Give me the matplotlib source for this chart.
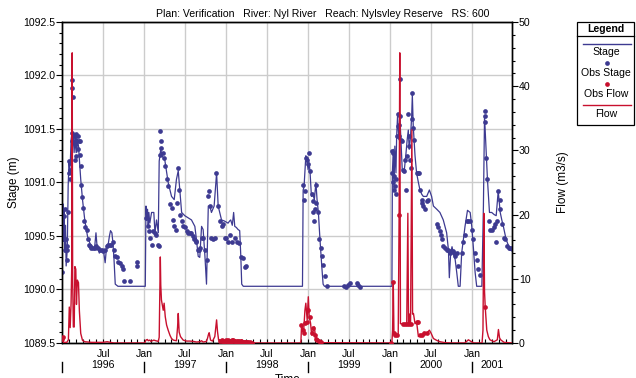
import numpy as np
import pandas as pd
import matplotlib
matplotlib.use("Agg")
import matplotlib.pyplot as plt
import matplotlib.dates as mdates
from matplotlib.patches import Rectangle
from matplotlib.lines import Line2D
from matplotlib.ticker import MultipleLocator, FixedLocator

plt.rcParams['font.family'] = ['Liberation Sans', 'DejaVu Sans']

# days counted from 1 Jan 1996
t0 = pd.Timestamp('1996-01-01')

# computed stage (m)
stage_day = [-1, 1, 3, 5, 8, 11, 14, 17, 22, 26, 30, 33, 36, 39, 43, 47, 51, 56, 60, 64,
             68, 72, 76, 82, 90, 100, 112, 125, 135, 143, 150, 155, 165, 175, 185, 191, 196, 203, 210, 215,
             221, 225, 230, 236, 248, 370, 373, 376, 380, 383, 386, 390, 398, 408, 413, 420, 428, 432, 439, 445,
             457, 472, 487, 499, 509, 517, 524, 532, 546, 561, 576, 591, 598, 606, 613, 621, 628, 636, 643, 651,
             658, 665, 677, 688, 695, 710, 723, 739, 746, 751, 758, 764, 769, 776, 784, 791, 796, 800, 807, 1071,
             1074, 1078, 1086, 1090, 1096, 1101, 1105, 1111, 1116, 1124, 1131, 1136, 1142, 1149, 1157, 1163, 1169, 1470, 1472, 1476,
             1479, 1483, 1488, 1491, 1495, 1501, 1506, 1510, 1516, 1524, 1533, 1538, 1543, 1547, 1553, 1558, 1561, 1565, 1573, 1580,
             1588, 1595, 1603, 1610, 1625, 1637, 1647, 1655, 1670, 1684, 1699, 1714, 1722, 1726, 1732, 1738, 1744, 1752, 1759, 1766,
             1774, 1781, 1796, 1807, 1819, 1826, 1834, 1841, 1848, 1871, 1878, 1883, 1889, 1896, 1905, 1915, 1926, 1935, 1944, 1953,
             1960, 1967, 1979, 1990, 1997, 2005]
stage_m = [1090.20, 1090.65, 1090.80, 1090.45, 1090.75, 1090.35, 1090.60, 1090.22, 1090.37, 1090.97, 1091.20, 1091.12, 1091.21, 1091.40, 1091.46, 1091.28, 1091.46, 1091.28, 1091.43, 1091.28,
           1091.40, 1091.34, 1091.21, 1091.03, 1090.84, 1090.65, 1090.50, 1090.42, 1090.40, 1090.37, 1090.53, 1090.40, 1090.34, 1090.37, 1090.34, 1090.25, 1090.37, 1090.40, 1090.50, 1090.55,
           1090.53, 1090.45, 1090.30, 1090.05, 1090.03, 1090.03, 1090.78, 1090.65, 1090.75, 1090.59, 1090.72, 1090.62, 1090.72, 1090.72, 1090.53, 1090.65, 1090.53, 1091.20, 1091.31, 1091.25,
           1091.21, 1091.00, 1090.87, 1090.84, 1091.03, 1091.11, 1090.93, 1090.72, 1090.69, 1090.67, 1090.65, 1090.59, 1090.47, 1090.31, 1090.30, 1090.59, 1090.56, 1090.31, 1090.05, 1090.78,
           1090.78, 1090.72, 1090.78, 1091.09, 1090.78, 1090.65, 1090.64, 1090.62, 1090.64, 1090.65, 1090.60, 1090.72, 1090.59, 1090.58, 1090.56, 1090.55, 1090.31, 1090.05, 1090.03, 1090.03,
           1090.93, 1090.96, 1091.25, 1091.23, 1091.12, 1091.18, 1091.09, 1090.87, 1090.90, 1090.84, 1091.00, 1090.84, 1090.72, 1090.47, 1090.22, 1090.05, 1090.03, 1090.03, 1091.09, 1091.31,
           1090.93, 1091.34, 1091.09, 1091.43, 1091.62, 1091.40, 1091.59, 1091.40, 1091.12, 1091.09, 1091.28, 1091.40, 1091.49, 1091.31, 1091.43, 1091.62, 1091.82, 1091.53, 1091.25, 1091.09,
           1091.00, 1090.93, 1090.89, 1090.87, 1090.87, 1090.93, 1090.87, 1090.78, 1090.75, 1090.72, 1090.65, 1090.53, 1090.37, 1090.11, 1090.34, 1090.40, 1090.34, 1090.28, 1090.16, 1090.03,
           1090.03, 1090.34, 1090.59, 1090.74, 1090.72, 1090.59, 1090.37, 1090.16, 1090.03, 1090.03, 1090.78, 1091.62, 1091.34, 1091.03, 1090.72, 1090.72, 1090.70, 1090.69, 1090.92, 1090.72,
           1090.65, 1090.59, 1090.47, 1090.41, 1090.37, 1090.36]

# observed stage (m)
obs_stage_day = [-1, 4, 7, 11, 13, 16, 19, 20, 23, 26, 29, 30, 33, 34, 36, 41, 43, 44, 45, 47,
                 48, 56, 56, 59, 63, 63, 68, 71, 74, 78, 78, 82, 85, 88, 93, 97, 100, 108, 115, 120,
                 124, 130, 138, 145, 152, 160, 167, 175, 182, 190, 197, 204, 212, 219, 227, 231, 234, 242, 249, 256,
                 264, 271, 276, 301, 331, 335, 375, 380, 386, 393, 401, 405, 413, 417, 425, 430, 435, 436, 439, 442,
                 447, 454, 460, 466, 472, 480, 487, 494, 499, 505, 511, 517, 520, 524, 532, 538, 546, 554, 561, 569,
                 576, 584, 588, 594, 598, 603, 609, 615, 621, 628, 636, 643, 648, 654, 659, 665, 673, 680, 686, 695,
                 703, 710, 717, 725, 728, 739, 749, 758, 769, 779, 788, 796, 804, 814, 819, 1075, 1078, 1081, 1087, 1090,
                 1096, 1102, 1106, 1112, 1116, 1119, 1122, 1125, 1130, 1133, 1139, 1146, 1154, 1158, 1164, 1172, 1181, 1256, 1263, 1272,
                 1282, 1312, 1320, 1329, 1470, 1472, 1474, 1476, 1478, 1480, 1483, 1486, 1488, 1491, 1495, 1498, 1501, 1503, 1506, 1507,
                 1509, 1513, 1521, 1524, 1528, 1533, 1538, 1543, 1546, 1547, 1550, 1555, 1558, 1561, 1565, 1570, 1580, 1588, 1592, 1595,
                 1603, 1606, 1610, 1617, 1625, 1632, 1670, 1677, 1684, 1689, 1695, 1699, 1707, 1714, 1722, 1729, 1734, 1741, 1747, 1752,
                 1759, 1766, 1781, 1789, 1796, 1804, 1811, 1819, 1826, 1833, 1841, 1848, 1856, 1863, 1883, 1886, 1887, 1890, 1893, 1901,
                 1908, 1915, 1923, 1930, 1935, 1938, 1945, 1950, 1953, 1960, 1968, 1975, 1982, 1990, 1997, 2004]
obs_stage_m = [1090.16, 1090.59, 1090.69, 1090.75, 1090.37, 1090.47, 1090.28, 1090.37, 1090.41, 1090.72, 1091.20, 1091.09, 1091.18, 1091.03, 1091.12, 1091.39, 1091.96, 1091.46, 1091.88, 1091.80,
               1091.43, 1091.43, 1091.21, 1091.40, 1091.45, 1091.25, 1091.43, 1091.31, 1091.39, 1091.39, 1091.26, 1091.15, 1090.98, 1090.86, 1090.76, 1090.64, 1090.58, 1090.56, 1090.47, 1090.42,
               1090.41, 1090.39, 1090.39, 1090.39, 1090.41, 1090.39, 1090.37, 1090.37, 1090.36, 1090.37, 1090.41, 1090.42, 1090.42, 1090.42, 1090.44, 1090.37, 1090.31, 1090.30, 1090.26, 1090.25,
               1090.22, 1090.19, 1090.08, 1090.08, 1090.26, 1090.22, 1090.67, 1090.59, 1090.55, 1090.48, 1090.42, 1090.55, 1090.53, 1090.51, 1090.42, 1090.41, 1091.26, 1091.48, 1091.39, 1091.32,
               1091.28, 1091.23, 1091.15, 1091.03, 1090.97, 1090.80, 1090.76, 1090.65, 1090.59, 1090.56, 1090.81, 1091.14, 1090.93, 1090.70, 1090.64, 1090.59, 1090.58, 1090.55, 1090.53, 1090.53,
               1090.53, 1090.50, 1090.47, 1090.45, 1090.44, 1090.37, 1090.37, 1090.39, 1090.48, 1090.48, 1090.37, 1090.28, 1090.87, 1090.92, 1090.78, 1090.48, 1090.47, 1090.48, 1091.09, 1090.78,
               1090.64, 1090.59, 1090.61, 1090.48, 1090.48, 1090.44, 1090.51, 1090.44, 1090.48, 1090.44, 1090.43, 1090.30, 1090.29, 1090.21, 1090.22, 1090.98, 1090.84, 1090.92, 1091.23, 1091.21,
               1091.17, 1091.28, 1091.11, 1090.89, 1090.83, 1090.72, 1090.64, 1090.75, 1090.98, 1090.81, 1090.72, 1090.47, 1090.39, 1090.31, 1090.23, 1090.13, 1090.03, 1090.03, 1090.02, 1090.04,
               1090.06, 1090.06, 1090.04, 1090.02, 1091.09, 1091.29, 1091.00, 1091.28, 1090.93, 1091.06, 1090.97, 1090.89, 1091.03, 1091.43, 1091.64, 1091.53, 1091.43, 1091.54, 1091.97, 1091.62,
               1091.40, 1091.39, 1091.12, 1091.11, 1091.21, 1090.93, 1091.25, 1091.64, 1091.34, 1091.43, 1091.21, 1091.14, 1091.84, 1091.59, 1091.51, 1091.40, 1091.09, 1091.09, 1091.09, 1090.93,
               1090.84, 1090.81, 1090.78, 1090.75, 1090.83, 1090.84, 1090.61, 1090.58, 1090.55, 1090.51, 1090.47, 1090.41, 1090.39, 1090.37, 1090.37, 1090.34, 1090.36, 1090.36, 1090.34, 1090.31,
               1090.34, 1090.22, 1090.34, 1090.44, 1090.51, 1090.64, 1090.64, 1090.64, 1090.56, 1090.47, 1090.34, 1090.28, 1090.19, 1090.14, 1091.62, 1091.67, 1091.57, 1091.23, 1091.03, 1090.64,
               1090.56, 1090.56, 1090.58, 1090.61, 1090.44, 1090.64, 1090.92, 1090.84, 1090.75, 1090.61, 1090.48, 1090.47, 1090.41, 1090.39, 1090.39, 1090.39]

# computed flow (m3/s)
flow_day = [-1, 1, 5, 20, 27, 31, 35, 39, 42, 44, 46, 49, 53, 56, 60, 63, 67, 72, 76, 82,
            90, 100, 130, 180, 200, 230, 365, 368, 373, 379, 383, 390, 395, 402, 408, 417, 428, 432, 437, 439,
            442, 450, 454, 459, 465, 472, 480, 487, 495, 509, 514, 517, 521, 527, 539, 554, 569, 584, 599, 613,
            621, 628, 643, 648, 651, 655, 661, 670, 680, 688, 692, 697, 703, 710, 718, 725, 733, 740, 747, 755,
            762, 770, 777, 784, 792, 799, 807, 814, 822, 829, 837, 844, 851, 1060, 1064, 1067, 1072, 1077, 1082, 1086,
            1092, 1097, 1101, 1107, 1112, 1119, 1124, 1128, 1134, 1141, 1149, 1466, 1470, 1473, 1476, 1479, 1484, 1491, 1498, 1502,
            1505, 1508, 1513, 1521, 1528, 1536, 1541, 1544, 1548, 1553, 1559, 1562, 1566, 1573, 1580, 1588, 1595, 1603, 1610, 1625,
            1637, 1645, 1655, 1670, 1684, 1707, 1736, 1795, 1805, 1811, 1820, 1835, 1872, 1876, 1880, 1883, 1886, 1893, 1900, 1907,
            1925, 1940, 1945, 1950, 1955, 1970, 2005]
flow_cms = [0.6, 0.9, 0.1, 0.1, 0.5, 5.6, 2.4, 6.2, 12.0, 45.2, 10.0, 2.5, 2.5, 11.9, 11.5, 6.0, 9.8, 9.4, 5.0, 1.5,
            0.4, 0.2, 0.1, 0.1, 0.2, 0.0, 0.0, 0.05, 0.45, 0.55, 0.35, 0.45, 0.25, 0.35, 0.45, 0.35, 0.25, 0.9, 13.4, 9.0,
            6.7, 5.1, 6.2, 4.1, 2.8, 2.0, 1.2, 0.7, 0.45, 0.35, 2.5, 4.6, 1.7, 1.0, 0.45, 0.3, 0.3, 0.25, 0.15, 0.2,
            0.35, 0.15, 0.25, 0.8, 1.25, 1.6, 0.45, 0.3, 1.0, 3.6, 1.8, 0.45, 0.36, 0.26, 0.36, 0.26, 0.31, 0.21, 0.36, 0.31,
            0.41, 0.31, 0.21, 0.26, 0.16, 0.26, 0.21, 0.16, 0.1, 0.1, 0.1, 0.05, 0.0, 0.0, 0.2, 2.8, 2.0, 2.3, 5.1, 6.2,
            3.6, 7.2, 4.1, 3.1, 1.25, 2.0, 2.5, 1.25, 0.7, 0.45, 0.05, 0.0, 0.2, 2.0, 9.5, 1.5, 1.25, 1.2, 1.3, 19.9,
            45.2, 3.0, 3.0, 3.0, 3.0, 3.0, 20.2, 3.0, 4.5, 3.0, 33.2, 4.5, 4.6, 3.0, 3.3, 1.0, 1.25, 1.2, 1.25, 1.5,
            2.0, 1.5, 0.7, 0.4, 0.2, 0.05, 0.0, 0.0, 0.3, 0.5, 0.3, 0.0, 0.0, 2.0, 20.2, 8.0, 5.65, 2.0, 1.0, 0.5,
            0.2, 0.5, 2.1, 0.8, 0.5, 0.1, 0.0]

# observed flow (m3/s)
obs_flow_day = [-1, 2, 703, 710, 714, 718, 722, 725, 729, 733, 737, 740, 744, 747, 751, 755, 758, 762, 766, 770,
                773, 777, 781, 784, 788, 792, 796, 799, 803, 807, 811, 814, 818, 822, 826, 829, 833, 837, 844, 1064,
                1072, 1076, 1082, 1089, 1097, 1104, 1112, 1119, 1127, 1131, 1137, 1146, 1152, 1466, 1476, 1481, 1484, 1491, 1502, 1521,
                1528, 1536, 1546, 1553, 1580, 1585, 1595, 1603, 1614, 1625, 1886]
obs_flow_cms = [0.6, 0.9, 0.36, 0.26, 0.4, 0.36, 0.2, 0.26, 0.4, 0.31, 0.45, 0.21, 0.3, 0.36, 0.2, 0.31, 0.4, 0.41, 0.25, 0.31,
                0.15, 0.21, 0.3, 0.26, 0.15, 0.16, 0.25, 0.26, 0.12, 0.21, 0.1, 0.16, 0.08, 0.1, 0.05, 0.1, 0.05, 0.1, 0.05, 2.8,
                2.0, 1.5, 3.1, 3.3, 5.1, 4.1, 1.5, 2.3, 1.25, 0.7, 0.5, 0.26, 0.16, 0.0, 9.5, 1.5, 1.25, 1.2, 19.9, 3.0,
                3.0, 3.0, 3.0, 3.0, 3.3, 3.3, 1.25, 1.2, 1.5, 1.5, 5.65]

years = [1996, 1997, 1998, 1999, 2000, 2001]

title = "Plan: Verification   River: Nyl River   Reach: Nylsvley Reserve   RS: 600"

def to_dates(d):
    return t0 + pd.to_timedelta(np.asarray(d, dtype=float), unit='D')

blue = '#3d3a91'
red = '#c8102e'
fs = 7.6

W, H = 636, 378
fig = plt.figure(figsize=(W / 100, H / 100), dpi=100)
ax = fig.add_axes([62 / W, 1 - 343 / H, 450 / W, 321 / H])
ax2 = ax.twinx()

ax.plot(to_dates(stage_day), stage_m, color=blue, lw=0.9, zorder=3)
ax.plot(to_dates(obs_stage_day), obs_stage_m, 'o', color=blue, ms=3.4, mec='none', zorder=4)
ax2.plot(to_dates(flow_day), flow_cms, color=red, lw=1.0, zorder=3)
ax2.plot(to_dates(obs_flow_day), obs_flow_cms, 'o', color=red, ms=3.4, mec='none', zorder=4)

xmin, xmax = to_dates([-1.5, 2005.5])
ax.set_xlim(xmin, xmax)
ax.set_ylim(1089.5, 1092.5)
ax2.set_ylim(0, 50)

# axis ticks
ax.yaxis.set_major_locator(MultipleLocator(0.5))
ax.yaxis.set_minor_locator(MultipleLocator(0.1))
ax.yaxis.set_major_formatter(plt.FormatStrFormatter('%.1f'))
ax2.yaxis.set_major_locator(MultipleLocator(10))
ax2.yaxis.set_minor_locator(MultipleLocator(2))

major_dates = pd.date_range('1996-07-01', '2001-01-01', freq='6MS')
ax.xaxis.set_major_locator(FixedLocator(mdates.date2num(major_dates)))
ax.xaxis.set_major_formatter(mdates.DateFormatter('%b'))
ax.xaxis.set_minor_locator(mdates.MonthLocator())

ax.tick_params(axis='y', which='major', direction='out', length=4, width=0.8, labelsize=fs, pad=1)
ax.tick_params(axis='y', which='minor', direction='out', length=2.5, width=0.8)
ax2.tick_params(axis='y', which='major', direction='out', length=4, width=0.8, labelsize=fs, pad=1)
ax2.tick_params(axis='y', which='minor', direction='out', length=2.5, width=0.8)
ax.tick_params(axis='x', which='both', direction='in', length=3, width=0.8, labelsize=fs, pad=4.5)

ax.grid(True, which='major', color='#cccccc', lw=1.0, zorder=0)
ax.set_axisbelow(True)
for a in (ax, ax2):
    for s in a.spines.values():
        s.set_linewidth(1.0)

# year row under month labels, with a bar at each year start
trans = ax.get_xaxis_transform()
yrow = -(365 - 343) / 321
bar_top, bar_bot = -(362 - 343) / 321, -(372 - 343) / 321
for yr in years:
    start = pd.Timestamp(f'{yr}-01-01')
    end = pd.Timestamp(f'{yr + 1}-01-01')
    lo, hi = max(start, xmin), min(end, xmax)
    mid = lo + (hi - lo) / 2
    ax.text(mdates.date2num(mid), yrow, str(yr), transform=trans, ha='center', va='center', fontsize=fs)
    xs = mdates.date2num(start)
    ax.plot([xs, xs], [bar_top, bar_bot], transform=trans, color='black', lw=1.0, clip_on=False)

fig.text(288 / W, 1 - 380 / H, 'Time', ha='center', va='center', fontsize=8.5)
fig.text(14 / W, 1 - 182.5 / H, 'Stage (m)', rotation=90, ha='center', va='center', fontsize=8.5)
fig.text(563 / W, 1 - 182.5 / H, 'Flow (m3/s)', rotation=90, ha='center', va='center', fontsize=8.5)
fig.text(323 / W, 1 - 14 / H, title, ha='center', va='center', fontsize=fs)

# legend box drawn in pixel positions
def fx(x):
    return x / W

def fy(y):
    return 1 - y / H

fig.patches.append(Rectangle((fx(577), fy(125)), fx(634) - fx(577), fy(22) - fy(125),
                             transform=fig.transFigure, facecolor='white', edgecolor='black', lw=0.9))
fig.lines.append(Line2D([fx(577), fx(634)], [fy(36), fy(36)], transform=fig.transFigure, color='black', lw=0.9))
cx = 606
fig.text(fx(cx), fy(29), 'Legend', ha='center', va='center', fontsize=fs, fontweight='bold')
fig.lines.append(Line2D([fx(583), fx(631)], [fy(43.5), fy(43.5)], transform=fig.transFigure, color=blue, lw=1.0))
fig.text(fx(cx), fy(52), 'Stage', ha='center', va='center', fontsize=fs)
fig.lines.append(Line2D([fx(607)], [fy(62.5)], transform=fig.transFigure, marker='o', ms=3.4, color=blue, mec='none'))
fig.text(fx(cx), fy(72.5), 'Obs Stage', ha='center', va='center', fontsize=fs)
fig.lines.append(Line2D([fx(607)], [fy(84)], transform=fig.transFigure, marker='o', ms=3.4, color=red, mec='none'))
fig.text(fx(cx), fy(94), 'Obs Flow', ha='center', va='center', fontsize=fs)
fig.lines.append(Line2D([fx(583), fx(631)], [fy(104.5), fy(104.5)], transform=fig.transFigure, color=red, lw=1.0))
fig.text(fx(cx), fy(114), 'Flow', ha='center', va='center', fontsize=fs)

fig.savefig('out.png', dpi=100)
